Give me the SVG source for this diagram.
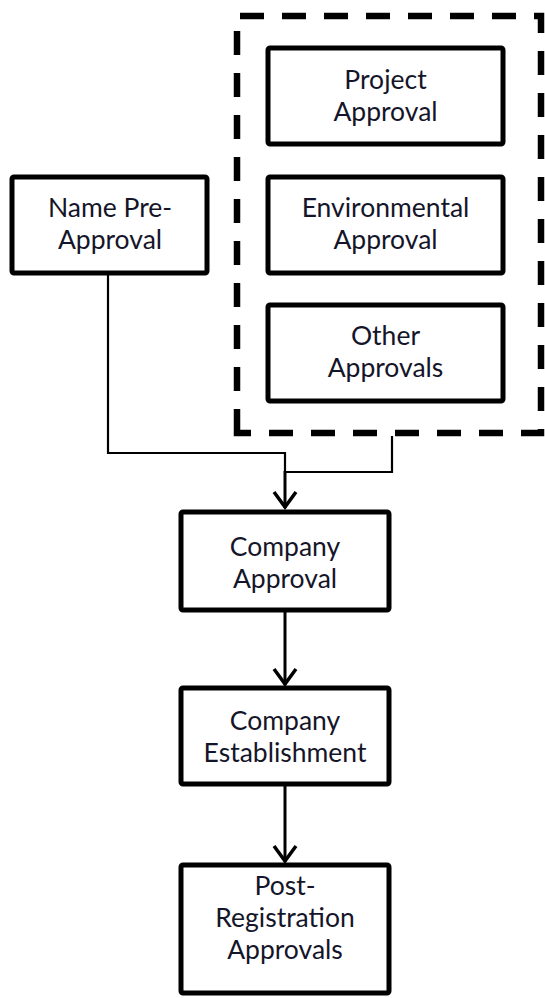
<svg xmlns="http://www.w3.org/2000/svg" width="545" height="998" viewBox="0 0 545 998">
<style>
.box{fill:#fff;stroke:#000;stroke-width:5}
.grp{fill:none;stroke:#000;stroke-width:6.5;stroke-dasharray:24 18}
.t{font-family:Lato,"Open Sans","Liberation Sans",sans-serif;font-size:26.5px;fill:#15152a;text-anchor:middle}
.ln{fill:none;stroke:#000;stroke-width:2.2}
.ar{fill:none;stroke:#000;stroke-width:3}
.hd{fill:none;stroke:#000;stroke-width:3.5;stroke-linejoin:miter}
</style>
<g id="connectors">
<path class="ln" d="M108 273 V453 H285 V472"/>
<path class="ln" d="M392 436 V472 H284"/>
<path class="ar" d="M285 471 V508"/>
<path class="hd" d="M274 492 L285 507 L296 492"/>
<path class="ar" d="M285 610 V685"/>
<path class="hd" d="M274 669 L285 684 L296 669"/>
<path class="ar" d="M285 784 V862"/>
<path class="hd" d="M274 846 L285 861 L296 846"/>
</g>
<g id="approvals-group">
<path class="grp" d="M237 433 V16 H541 V433 Z"/>
</g>
<g id="project-approval">
<rect class="box" x="268" y="48" width="235" height="96" rx="2"/>
<text class="t" x="385.5" y="89">Project</text>
<text class="t" x="385.5" y="121">Approval</text>
</g>
<g id="environmental-approval">
<rect class="box" x="268" y="177" width="235" height="96" rx="2"/>
<text class="t" x="385.5" y="217">Environmental</text>
<text class="t" x="385.5" y="249">Approval</text>
</g>
<g id="other-approvals">
<rect class="box" x="268" y="305" width="235" height="96" rx="2"/>
<text class="t" x="385.5" y="345">Other</text>
<text class="t" x="385.5" y="377">Approvals</text>
</g>
<g id="name-pre-approval">
<rect class="box" x="12" y="177" width="195" height="96" rx="2"/>
<text class="t" x="110" y="217">Name Pre-</text>
<text class="t" x="110" y="249">Approval</text>
</g>
<g id="company-approval">
<rect class="box" x="181" y="512" width="208" height="98" rx="2"/>
<text class="t" x="285" y="556">Company</text>
<text class="t" x="285" y="588">Approval</text>
</g>
<g id="company-establishment">
<rect class="box" x="181" y="688" width="208" height="96" rx="2"/>
<text class="t" x="285" y="730">Company</text>
<text class="t" x="285" y="762">Establishment</text>
</g>
<g id="post-registration-approvals">
<rect class="box" x="181" y="865" width="208" height="128" rx="2"/>
<text class="t" x="285" y="895">Post-</text>
<text class="t" x="285" y="927">Registration</text>
<text class="t" x="285" y="959">Approvals</text>
</g>
</svg>
